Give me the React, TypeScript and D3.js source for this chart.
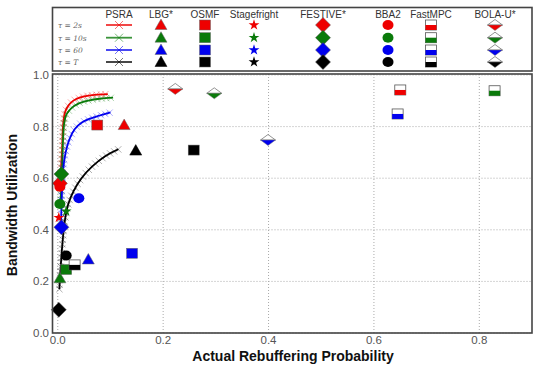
import React, { useEffect, useRef } from "react";
import * as d3 from "d3";

const tauLabels = ["τ = 2s", "τ = 10s", "τ = 60", "τ = T"];
const tauColors = ["#ee0000", "#0a7a0a", "#0000ee", "#000000"];
const algorithms = ["PSRA", "LBG*", "OSMF", "Stagefright", "FESTIVE*", "BBA2", "FastMPC", "BOLA-U*"];
const xTicks = [0.0, 0.2, 0.4, 0.6, 0.8];
const yTicks = [0.0, 0.2, 0.4, 0.6, 0.8, 1.0];

// PSRA curves, one per tau: [rebuffering probability, bandwidth utilization]
const psra2s: [number, number][] = [[0.004,0.57],[0.008,0.70],[0.010,0.80],[0.013,0.85],[0.018,0.875],[0.025,0.893],[0.035,0.907],[0.05,0.917],[0.07,0.923],[0.095,0.926]];
const psra10s: [number, number][] = [[0.005,0.50],[0.008,0.62],[0.010,0.75],[0.012,0.81],[0.016,0.845],[0.025,0.870],[0.04,0.89],[0.06,0.902],[0.08,0.908],[0.105,0.912]];
const psra60: [number, number][] = [[0.006,0.41],[0.008,0.55],[0.010,0.63],[0.015,0.70],[0.022,0.75],[0.032,0.79],[0.045,0.815],[0.06,0.83],[0.08,0.843],[0.1,0.855]];
const psraT: [number, number][] = [[0.003,0.17],[0.006,0.27],[0.009,0.35],[0.013,0.43],[0.02,0.50],[0.03,0.55],[0.045,0.60],[0.065,0.645],[0.09,0.685],[0.115,0.712]];

// point results per algorithm, ordered tau = 2s, 10s, 60, T (null = not shown)
const lbg: ([number, number] | null)[] = [[0.126,0.806],[0.004,0.212],[0.058,0.285],[0.148,0.707]];
const osmf: ([number, number] | null)[] = [[0.075,0.806],[0.016,0.246],[0.141,0.309],[0.258,0.709]];
const stagefright: ([number, number] | null)[] = [[0.002,0.447],[0.016,0.472],null,null];
const festive: ([number, number] | null)[] = [[0.004,0.58],[0.007,0.616],[0.007,0.41],[0.002,0.09]];
const bba2: ([number, number] | null)[] = [[0.004,0.567],[0.004,0.5],[0.04,0.522],[0.016,0.3]];
const fastmpc: ([number, number] | null)[] = [[0.65,0.942],[0.829,0.939],[0.645,0.849],[0.032,0.264]];
const bolau: ([number, number] | null)[] = [[0.223,0.946],[0.297,0.929],[0.399,0.748],null];

const W = 543, H = 365;
const plot = { left: 52.5, right: 532, top: 74, bottom: 333 };
const legendBox = { left: 52.5, right: 532, top: 7.5, bottom: 71 };
const legendCols = [119, 161, 205, 254, 323, 388, 431, 495];
const legendRows = [25, 37.7, 50, 62];

type Kind = "tri" | "sq" | "star" | "dia" | "circ" | "half" | "hdia";

function drawMarker(g: d3.Selection<SVGGElement, unknown, null, undefined>, kind: Kind, x: number, y: number, color: string) {
  if (kind === "tri") {
    g.append("path").attr("d", `M${x},${y - 6}L${x + 6},${y + 4.5}L${x - 6},${y + 4.5}Z`).attr("fill", color).attr("stroke", color === "#000000" ? "#000" : "#666").attr("stroke-width", 0.5);
  } else if (kind === "sq") {
    g.append("rect").attr("x", x - 5.5).attr("y", y - 5).attr("width", 11).attr("height", 10).attr("fill", color).attr("stroke", "#666").attr("stroke-width", 0.5);
  } else if (kind === "star") {
    g.append("path").attr("d", d3.symbol().type(d3.symbolStar).size(36)()).attr("transform", `translate(${x},${y})`).attr("fill", color);
  } else if (kind === "dia") {
    g.append("path").attr("d", `M${x},${y - 7.5}L${x + 7.5},${y}L${x},${y + 7.5}L${x - 7.5},${y}Z`).attr("fill", color).attr("stroke", "#555").attr("stroke-width", 0.5);
  } else if (kind === "circ") {
    g.append("ellipse").attr("cx", x).attr("cy", y).attr("rx", 5.5).attr("ry", 5).attr("fill", color);
  } else if (kind === "half") {
    g.append("rect").attr("x", x - 5.5).attr("y", y - 5).attr("width", 11).attr("height", 10).attr("fill", "#fff").attr("stroke", "#555").attr("stroke-width", 0.8);
    g.append("rect").attr("x", x - 5.5).attr("y", y).attr("width", 11).attr("height", 5).attr("fill", color);
  } else if (kind === "hdia") {
    g.append("path").attr("d", `M${x},${y - 5.5}L${x + 7.5},${y}L${x - 7.5},${y}Z`).attr("fill", "#fff").attr("stroke", "#777").attr("stroke-width", 0.8);
    g.append("path").attr("d", `M${x - 7.5},${y}L${x + 7.5},${y}L${x},${y + 5.5}Z`).attr("fill", color).attr("stroke", "#777").attr("stroke-width", 0.5);
  }
}

function xMark(g: d3.Selection<SVGGElement, unknown, null, undefined>, x: number, y: number, color: string, s: number, op: number) {
  g.append("path").attr("d", `M${x - s},${y - s}L${x + s},${y + s}M${x - s},${y + s}L${x + s},${y - s}`)
    .attr("stroke", color).attr("stroke-width", 0.9).attr("opacity", op).attr("fill", "none");
}

export default function App() {
  const ref = useRef<SVGSVGElement>(null);
  useEffect(() => {
    const svg = d3.select(ref.current!);
    svg.selectAll("*").remove();
    const root = svg.append("g") as d3.Selection<SVGGElement, unknown, null, undefined>;

    const x = d3.scaleLinear().domain([-0.01, 0.9]).range([plot.left, plot.right]);
    const y = d3.scaleLinear().domain([0, 1.0]).range([plot.bottom, 75]);

    root.append("rect").attr("x", plot.left).attr("y", plot.top).attr("width", plot.right - plot.left).attr("height", plot.bottom - plot.top).attr("fill", "#fff");

    // grid
    const grid = root.append("g");
    xTicks.forEach(t => {
      grid.append("line").attr("x1", x(t)).attr("x2", x(t)).attr("y1", plot.top).attr("y2", plot.bottom).attr("stroke", "#aaa").attr("stroke-width", 1).attr("stroke-dasharray", "1,2");
    });
    yTicks.forEach(t => {
      grid.append("line").attr("x1", plot.left).attr("x2", plot.right).attr("y1", y(t)).attr("y2", y(t)).attr("stroke", "#aaa").attr("stroke-width", 1).attr("stroke-dasharray", "1,2");
    });

    const font = "Liberation Sans, Arial, sans-serif";
    xTicks.forEach(t => {
      root.append("text").attr("x", x(t)).attr("y", 344).attr("text-anchor", "middle").attr("font-family", font).attr("font-size", 11.5).attr("fill", "#555").text(d3.format(".1f")(t));
    });
    yTicks.forEach(t => {
      root.append("text").attr("x", 49).attr("y", y(t) + 4).attr("text-anchor", "end").attr("font-family", font).attr("font-size", 11.5).attr("fill", "#555").text(d3.format(".1f")(t));
    });

    root.append("text").attr("x", 293).attr("y", 361).attr("text-anchor", "middle").attr("font-family", font).attr("font-weight", "bold").attr("font-size", 14).attr("fill", "#111").text("Actual Rebuffering Probability");
    root.append("text").attr("transform", `translate(17,205) rotate(-90)`).attr("text-anchor", "middle").attr("font-family", font).attr("font-weight", "bold").attr("font-size", 14).attr("fill", "#111").text("Bandwidth Utilization");

    // PSRA curves
    const curves = [psra2s, psra10s, psra60, psraT];
    const line = d3.line<[number, number]>().x(d => x(d[0])).y(d => y(d[1])).curve(d3.curveCatmullRom.alpha(0.5));
    const cg = root.append("g") as d3.Selection<SVGGElement, unknown, null, undefined>;
    curves.forEach((c, i) => {
      const p = cg.append("path").attr("d", line(c)).attr("fill", "none").attr("stroke", tauColors[i]).attr("stroke-width", 1.8);
      const node = p.node() as SVGPathElement;
      const L = node.getTotalLength();
      for (let l = 0; l <= L; l += 4.5) {
        const pt = node.getPointAtLength(l);
        xMark(cg, pt.x, pt.y, tauColors[i], 3.2, 0.35);
      }
    });

    // points
    const sets: [([number, number] | null)[], Kind][] = [[lbg, "tri"], [osmf, "sq"], [stagefright, "star"], [festive, "dia"], [bba2, "circ"], [fastmpc, "half"], [bolau, "hdia"]];
    const pg = root.append("g") as d3.Selection<SVGGElement, unknown, null, undefined>;
    sets.forEach(([arr, kind]) => {
      arr.forEach((d, i) => {
        if (d) drawMarker(pg, kind, x(d[0]), y(d[1]), tauColors[i]);
      });
    });

    root.append("rect").attr("x", plot.left).attr("y", plot.top).attr("width", plot.right - plot.left).attr("height", plot.bottom - plot.top).attr("fill", "none").attr("stroke", "#444").attr("stroke-width", 1.6);

    // legend
    const lg = root.append("g") as d3.Selection<SVGGElement, unknown, null, undefined>;
    lg.append("rect").attr("x", legendBox.left).attr("y", legendBox.top).attr("width", legendBox.right - legendBox.left).attr("height", legendBox.bottom - legendBox.top).attr("fill", "#fff").attr("stroke", "#444").attr("stroke-width", 1.6);
    algorithms.forEach((a, j) => {
      lg.append("text").attr("x", legendCols[j]).attr("y", 17.5).attr("text-anchor", "middle").attr("font-family", font).attr("font-size", 10).attr("fill", "#333").text(a);
    });
    tauLabels.forEach((t, i) => {
      const ry = legendRows[i];
      lg.append("text").attr("x", 58).attr("y", ry + 3).attr("font-family", "DejaVu Serif, serif").attr("font-style", "italic").attr("font-size", 7.5).attr("fill", "#666").text(t);
      lg.append("line").attr("x1", legendCols[0] - 13).attr("x2", legendCols[0] + 13).attr("y1", ry).attr("y2", ry).attr("stroke", tauColors[i]).attr("stroke-width", 1.8).attr("opacity", 0.8);
      xMark(lg, legendCols[0], ry, tauColors[i], 4, 0.6);
      const kinds: Kind[] = ["tri", "sq", "star", "dia", "circ", "half", "hdia"];
      kinds.forEach((k, j) => drawMarker(lg, k, legendCols[j + 1], ry, tauColors[i]));
    });
  }, []);
  return <svg ref={ref} width={W} height={H} style={{ position: "absolute", left: 0, top: 0, background: "#fff" }} />;
}
